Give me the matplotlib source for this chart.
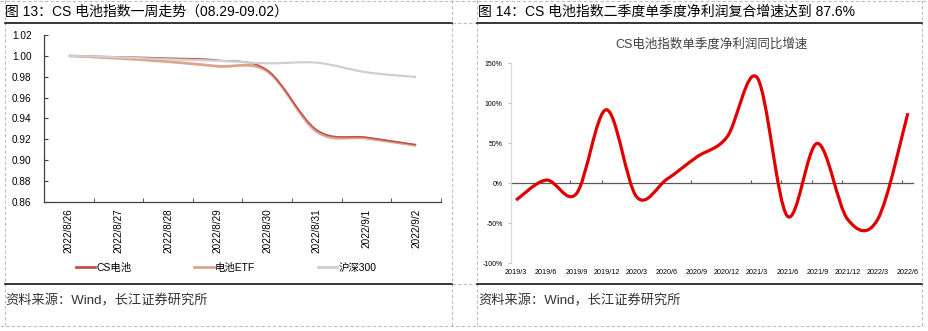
import matplotlib
matplotlib.use("Agg")
import matplotlib.pyplot as plt
from matplotlib.path import Path
from matplotlib.patches import PathPatch
from matplotlib.lines import Line2D
from matplotlib.ticker import FuncFormatter, MultipleLocator

plt.rcParams['font.family'] = ['Liberation Sans', 'Noto Sans CJK SC', 'DejaVu Sans']

# left chart: weekly trend, index normalised to 8/26
dates = ['2022/8/26', '2022/8/27', '2022/8/28', '2022/8/29',
         '2022/8/30', '2022/8/31', '2022/9/1', '2022/9/2']
cs_battery = [1.000, 0.9990, 0.9978, 0.9958, 0.9862, 0.9288, 0.9218, 0.9147]
battery_etf = [1.000, 0.9976, 0.9944, 0.9900, 0.9852, 0.9272, 0.9209, 0.9140]
hs300 = [1.000, 0.9986, 0.9967, 0.9953, 0.9928, 0.9934, 0.9842, 0.9797]

# right chart: quarterly net profit yoy growth (%)
quarters = ['2019/3', '2019/6', '2019/9', '2019/12', '2020/3', '2020/6', '2020/9',
            '2020/12', '2021/3', '2021/6', '2021/9', '2021/12', '2022/3', '2022/6']
profit_yoy = [-21, 4, -13, 92, -17, 5, 33, 58, 132, -41, 50, -45, -45, 87.6]


def smooth_path(xs, ys):
    # excel-like smoothed line: catmull-rom written as cubic bezier segments
    n = len(xs)
    verts = [(xs[0], ys[0])]
    codes = [Path.MOVETO]
    for i in range(n - 1):
        xp, yp = (xs[i - 1], ys[i - 1]) if i > 0 else (xs[i], ys[i])
        xn, yn = (xs[i + 2], ys[i + 2]) if i + 2 < n else (xs[i + 1], ys[i + 1])
        c1 = (xs[i] + (xs[i + 1] - xp) / 6, ys[i] + (ys[i + 1] - yp) / 6)
        c2 = (xs[i + 1] - (xn - xs[i]) / 6, ys[i + 1] - (yn - ys[i]) / 6)
        verts += [c1, c2, (xs[i + 1], ys[i + 1])]
        codes += [Path.CURVE4] * 3
    return Path(verts, codes)


def add_smooth(ax, ys, color, lw):
    xs = list(range(len(ys)))
    ax.add_patch(PathPatch(smooth_path(xs, ys), fill=False, edgecolor=color,
                           lw=lw, capstyle='butt', joinstyle='round'))


W, H = 929, 331
fig = plt.figure(figsize=(W / 100, H / 100), dpi=100)

# ---- left chart
ax1 = fig.add_axes([44 / W, 1 - 201.7 / H, (441 - 44) / W, (201.7 - 35) / H])
c_cs, c_etf, c_hs = '#C0504D', '#DDA48C', '#CFCFCF'
add_smooth(ax1, battery_etf, c_etf, 2.0)
add_smooth(ax1, cs_battery, c_cs, 1.1)
add_smooth(ax1, hs300, c_hs, 1.6)
ax1.set_xlim(-0.5, len(dates) - 0.5)
ax1.set_ylim(0.86, 1.02)
ax1.yaxis.set_major_locator(MultipleLocator(0.02))
ax1.yaxis.set_major_formatter(FuncFormatter(lambda v, p: '%.2f' % v))
ax1.set_xticks(range(len(dates)))
ax1.set_xticklabels(dates, rotation=90, fontsize=7.2)
ax1.set_xticks([i - 0.5 for i in range(len(dates) + 1)], minor=True)
ax1.tick_params(axis='x', which='major', length=0, pad=5)
ax1.tick_params(axis='x', which='minor', direction='in', length=3, color='#404040')
ax1.tick_params(axis='y', direction='in', length=3, color='#404040', labelsize=7.2, pad=9)
for s in ['top', 'right']:
    ax1.spines[s].set_visible(False)
for s in ['left', 'bottom']:
    ax1.spines[s].set_color('#404040')
    ax1.spines[s].set_linewidth(0.9)
handles = [Line2D([], [], color=c_cs, lw=2), Line2D([], [], color=c_etf, lw=2),
           Line2D([], [], color=c_hs, lw=2)]
fig.legend(handles, ['CS电池', '电池ETF', '沪深300'], loc='center',
           bbox_to_anchor=(226 / W, 1 - 268 / H), ncol=3, frameon=False,
           fontsize=7.5, handlelength=1.9, handletextpad=0.1, columnspacing=6.0)

# ---- right chart
ax2 = fig.add_axes([511 / W, 1 - 263.3 / H, (913 - 511) / W, (263.3 - 63.3) / H])
add_smooth(ax2, profit_yoy, '#E00000', 2.3)
ax2.set_xlim(-0.17, len(quarters) - 1 + 0.17)
ax2.set_ylim(-100, 150)
ax2.yaxis.set_major_locator(MultipleLocator(50))
ax2.yaxis.set_major_formatter(FuncFormatter(lambda v, p: '%d%%' % v))
ax2.set_xticks(range(len(quarters)))
ax2.set_xticklabels(quarters, fontsize=5.2)
ax2.tick_params(axis='x', length=0, pad=4)
ax2.tick_params(axis='y', length=2, color='#BFBFBF', labelsize=5, pad=4)
for s in ['top', 'right', 'bottom']:
    ax2.spines[s].set_visible(False)
ax2.spines['left'].set_color('#D9D9D9')
ax2.spines['left'].set_linewidth(0.9)
# zero line with its small ticks
zero_ax = ax2.secondary_xaxis(100 / 250)
zero_ax.spines['bottom'].set_color('#595959')
zero_ax.spines['bottom'].set_linewidth(0.9)
zero_ax.set_xticks([1.8, 2.85, 5.8, 7.8, 8.8, 9.83, 10.83, 12.8])
zero_ax.set_xticklabels([])
zero_ax.tick_params(direction='in', length=2.5, color='#595959')
ax2.set_title('CS电池指数单季度净利润同比增速', fontsize=9, color='#404040', pad=11)

# ---- titles, sources and frame lines
fig.text(5 / W, 1 - 12 / H, '图 13：CS 电池指数一周走势（08.29-09.02）',
         fontsize=10, va='center', ha='left')
fig.text(478 / W, 1 - 12 / H, '图 14：CS 电池指数二季度单季度净利润复合增速达到 87.6%',
         fontsize=10, va='center', ha='left')
fig.text(5 / W, 1 - 301 / H, '资料来源：Wind，长江证券研究所', fontsize=9.5,
         va='center', ha='left', color='#333333')
fig.text(478 / W, 1 - 301 / H, '资料来源：Wind，长江证券研究所', fontsize=9.5,
         va='center', ha='left', color='#333333')


def fline(x0, y0, x1, y1, **kw):
    fig.add_artist(Line2D([x0 / W, x1 / W], [1 - y0 / H, 1 - y1 / H],
                          transform=fig.transFigure, **kw))


dash = dict(color='#BFBFBF', lw=0.8, ls=(0, (3, 2)))
fline(0, 1, W, 1, **dash)
fline(0, 325.5, 923, 325.5, **dash)
for x in [5, 452, 477, 922]:
    fline(x, 0, x, 326, **dash)
fline(452, 23, 477, 23, **dash)
fline(452, 284, 477, 284, **dash)
solid = dict(color='black', lw=1.1)
fline(5, 23, 452, 23, **solid)
fline(477, 23, 922, 23, **solid)
fline(5, 284, 452, 284, **solid)
fline(477, 284, 922, 284, **solid)

fig.savefig('out.png', dpi=100)
